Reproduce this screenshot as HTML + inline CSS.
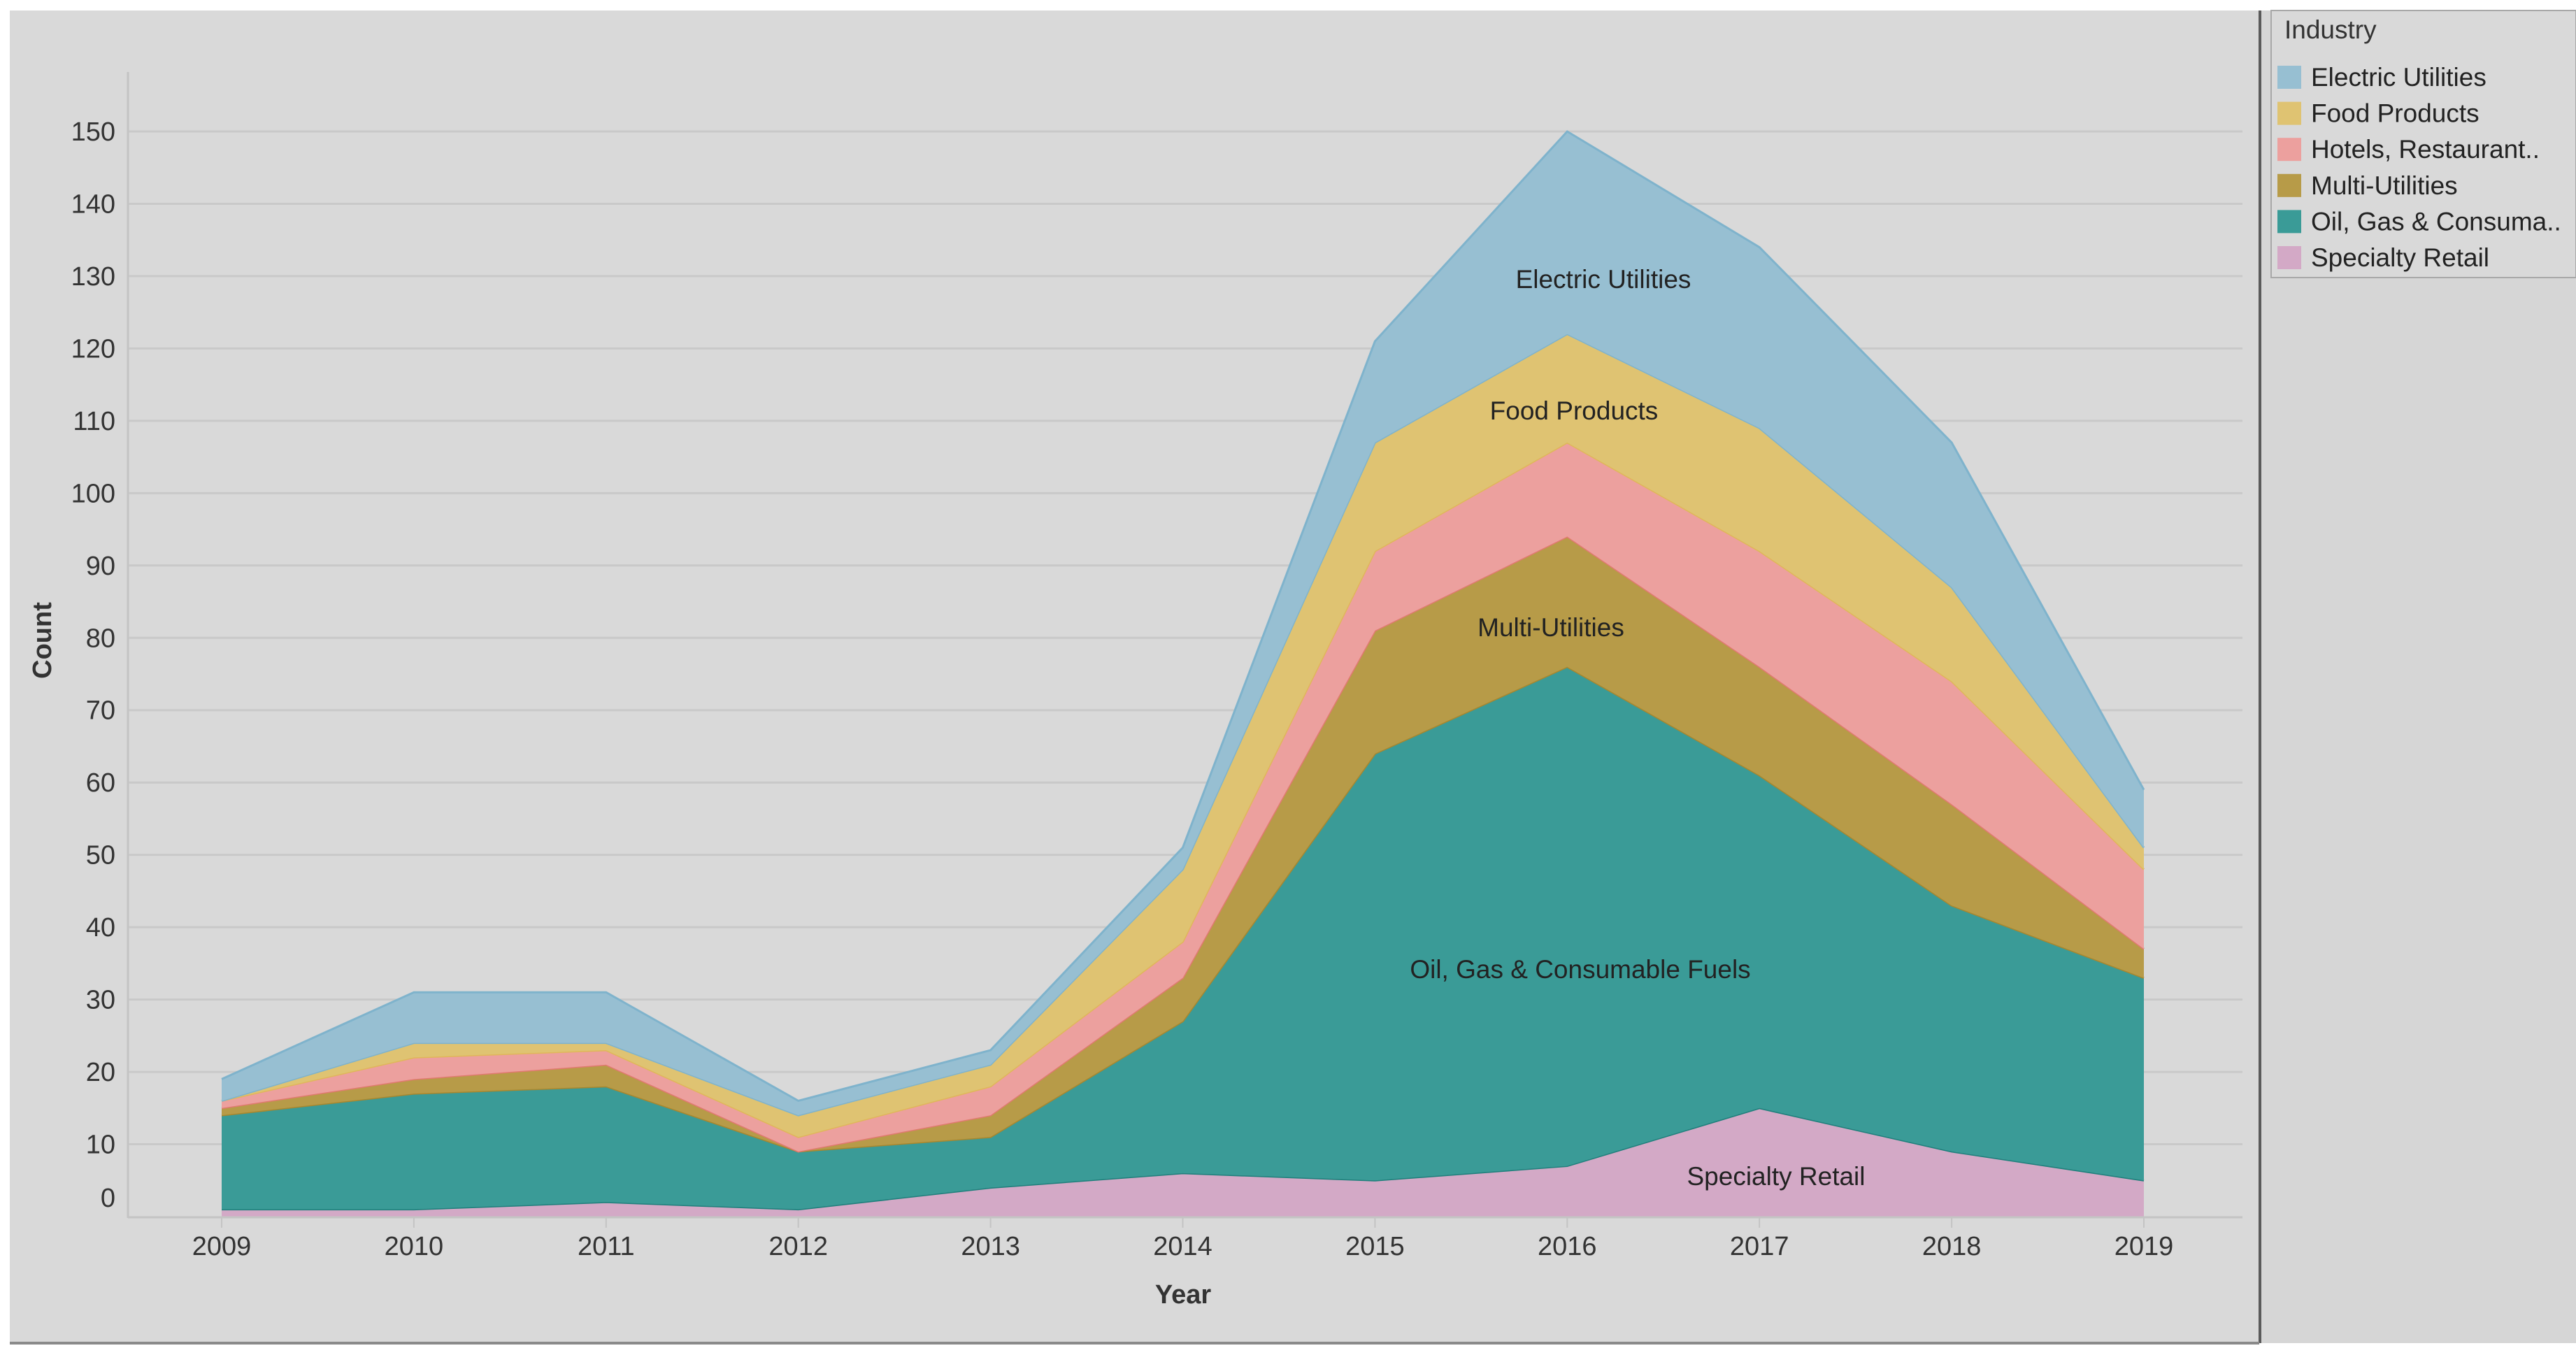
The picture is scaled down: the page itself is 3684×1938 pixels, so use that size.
<!DOCTYPE html>
<html><head><meta charset="utf-8">
<style>
html,body{margin:0;padding:0;background:#fff;}
svg{display:block;font-family:"Liberation Sans",sans-serif;}
</style></head>
<body>
<svg id="chart" width="3684" height="1938" viewBox="0 0 3684 1938">
  <rect x="14" y="15" width="3217" height="1906" fill="#d9d9d9"/>
  <rect x="3234" y="15" width="450" height="1906" fill="#d6d6d6"/>
  <line x1="3232" y1="15" x2="3232" y2="1921" stroke="#5a5a5a" stroke-width="4"/>
  <line x1="14" y1="1921" x2="3231" y2="1921" stroke="#8a8a8a" stroke-width="4"/>
  <g id="grid"></g>
  <g id="areas"></g>
  <g id="axes"></g>
  <g id="labels"></g>
  <g id="legend"></g>
</svg>
<script>
const years = ["2009","2010","2011","2012","2013","2014","2015","2016","2017","2018","2019"];
const seriesNames = ["Specialty Retail","Oil, Gas & Consumable Fuels","Multi-Utilities","Hotels, Restaurants & Leisure","Food Products","Electric Utilities"];
const specialtyRetail = [1,1,2,1,4,6,5,7,15,9,5];
const oilGas = [13,16,16,8,7,21,59,69,46,34,28];
const multiUtilities = [1,2,3,0,3,6,17,18,15,14,4];
const hotels = [1,3,2,2,4,5,11,13,16,17,11];
const foodProducts = [0,2,1,3,3,10,15,15,17,13,3];
const electricUtilities = [3,7,7,2,2,3,14,28,25,20,8];
const yTicks = [0,10,20,30,40,50,60,70,80,90,100,110,120,130,140,150];

const NS="http://www.w3.org/2000/svg";
const svg=document.getElementById('chart');
function mk(tag,attrs,parent){const e=document.createElementNS(NS,tag);for(const k in attrs)e.setAttribute(k,attrs[k]);parent.appendChild(e);return e;}
const X0=317,X1=3066,Y0=1740,Y150=188;
function xs(i){return X0+(X1-X0)*i/(years.length-1);}
function ys(v){return Y0-(Y0-Y150)*v/150;}

const grid=document.getElementById('grid');
const axes=document.getElementById('axes');
yTicks.forEach(t=>{
  if(t>0){
    const l=mk('line',{x1:183,x2:3207,y1:ys(t),y2:ys(t),stroke:'#c9c9c9','stroke-width':3},grid);
    
    
  }
  const tx=mk('text',{x:165,y:(t===0?ys(0)-27:ys(t))+13,'text-anchor':'end','font-size':38,fill:'#333'},axes);
  tx.textContent=t;
  
  
});
let a=mk('line',{x1:183,x2:183,y1:103,y2:1742,stroke:'#c4c4c4','stroke-width':3},axes);


a=mk('line',{x1:183,x2:3207,y1:1741,y2:1741,stroke:'#c4c4c4','stroke-width':3},axes);


years.forEach((y,i)=>{
  const tk=mk('line',{x1:xs(i),x2:xs(i),y1:1742,y2:1756,stroke:'#c4c4c4','stroke-width':2},axes);
  
  
  const t=mk('text',{x:xs(i),y:1795,'text-anchor':'middle','font-size':38,fill:'#333'},axes);
  t.textContent=y;
  
  
});
let tt=mk('text',{x:1692,y:1864,'text-anchor':'middle','font-size':38,'font-weight':'bold',fill:'#333'},axes);
tt.textContent='Year';


tt=mk('text',{x:0,y:0,'text-anchor':'middle','font-size':38,'font-weight':'bold',fill:'#333',transform:'translate(73,916) rotate(-90)'},axes);
tt.textContent='Count';



const series=[specialtyRetail,oilGas,multiUtilities,hotels,foodProducts,electricUtilities];
const fills=['#d3a9c6','#3a9b97','#b79b48','#eca09e','#dfc372','#97bfd2'];
const strokes=['#1f7f7b','#a8872e','#e07a70','#e0b65a','#7fb3cc','#7fb3cc'];
const keys=['specialty-retail','oil-gas','multi-utilities','hotels','food-products','electric-utilities'];
const areas=document.getElementById('areas');
let base=years.map(()=>0);
series.forEach((s,k)=>{
  const top=base.map((b,i)=>b+s[i]);
  let d='M'+years.map((_,i)=>xs(i)+','+ys(top[i])).join(' L');
  for(let i=years.length-1;i>=0;i--)d+=' L'+xs(i)+','+ys(base[i]);
  d+=' Z';
  const p=mk('path',{d:d,fill:fills[k]},areas);
  
  
  const ln=mk('path',{d:'M'+years.map((_,i)=>xs(i)+','+ys(top[i])).join(' L'),fill:'none',stroke:strokes[k],'stroke-width':3},areas);
  
  
  base=top;
});

const labels=document.getElementById('labels');
const lab=[['Electric Utilities',2293,412],['Food Products',2251,600],['Multi-Utilities',2218,910],['Oil, Gas & Consumable Fuels',2260,1399],['Specialty Retail',2540,1695]];
lab.forEach(l=>{
  const t=mk('text',{x:l[1],y:l[2],'text-anchor':'middle','font-size':37,fill:'#222'},labels);
  t.textContent=l[0];
  
  
});

const legend=document.getElementById('legend');
let r=mk('rect',{x:3248,y:15,width:436,height:382,fill:'#d9d9d9',stroke:'#a8a8a8','stroke-width':2},legend);


tt=mk('text',{x:3267,y:55,'font-size':37,fill:'#333'},legend);
tt.textContent='Industry';


const legNames=['Electric Utilities','Food Products','Hotels, Restaurant..','Multi-Utilities','Oil, Gas & Consuma..','Specialty Retail'];
const legFill=['#97bfd2','#dfc372','#eca09e','#b79b48','#3a9b97','#d3a9c6'];
legNames.forEach((n,i)=>{
  const cy=110+i*51.6;
  const sw=mk('rect',{x:3257,y:cy-16,width:34,height:33,fill:legFill[i]},legend);
  
  
  const t=mk('text',{x:3305,y:cy+13,'font-size':37,fill:'#222'},legend);
  t.textContent=n;
  
  
});
</script>
</body></html>
